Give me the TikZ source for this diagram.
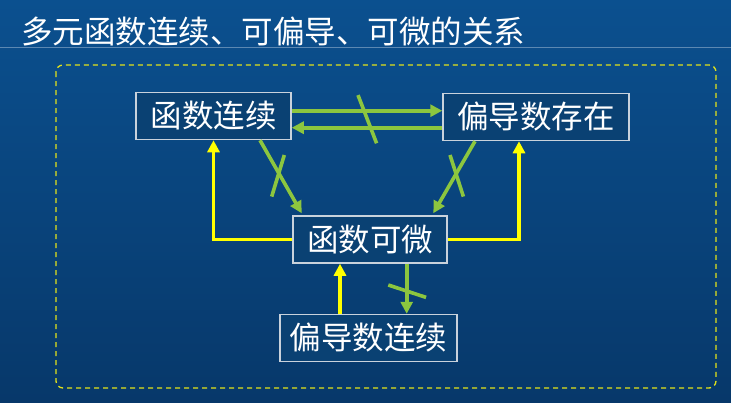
\documentclass[tikz,border=0pt]{standalone}
\usepackage{fontspec}
\newfontfamily\cjk{Noto Sans CJK SC}
\usetikzlibrary{arrows.meta,calc}
\definecolor{bgtop}{HTML}{0B508F}
\definecolor{bgbot}{HTML}{07386A}
\definecolor{gr}{HTML}{8CC63F}
\definecolor{yl}{HTML}{FFFF00}
\definecolor{dashyl}{HTML}{E2E21A}
\definecolor{boxline}{HTML}{C9D2DC}
\definecolor{boxfill}{HTML}{0A4173}
\definecolor{rulecol}{HTML}{5C88B2}
\tikzset{
  box/.style={draw=boxline,line width=1.5pt,fill=boxfill,rectangle,inner sep=0pt,
    text=white,font=\cjk\fontsize{31.5}{34}\selectfont,minimum height=47pt},
  garrow/.style={draw=gr,line width=3.6pt,-{Triangle[length=12pt,width=12pt]}},
  yarrow/.style={draw=yl,line width=3.6pt,-{Triangle[length=12pt,width=12pt]}},
  slash/.style={draw=gr,line width=3.6pt},
}
\begin{document}
\begin{tikzpicture}[x=1pt,y=-1pt]
\shade[top color=bgtop,bottom color=bgbot] (0,0) rectangle (731,402);
\useasboundingbox (0,0) rectangle (731,402);
\draw[rulecol,line width=0.8pt] (0,47) -- (731,47);
\node[anchor=west,inner sep=0pt,text=white,font=\cjk\fontsize{31.5}{34}\selectfont] (title) at (21,32) {多元函数连续、可偏导、可微的关系};
\draw[dashyl,line width=1.3pt,dash pattern=on 5pt off 4pt,rounded corners=7pt] (56,65) rectangle (716,388);

\node[box,minimum width=155pt] (A) at (213.5,116) {函数连续};
\node[box,minimum width=186pt] (B) at (536,117) {偏导数存在};
\node[box,minimum width=154pt] (C) at (370,239.5) {函数可微};
\node[box,minimum width=177pt] (D) at (368.5,338) {偏导数连续};

% A <-> B
\draw[garrow] ([yshift=5.3pt]A.east) -- ([yshift=5.3pt]A.east -| B.west);
\draw[garrow] ([yshift=-11.7pt]A.east -| B.west) -- ([yshift=-11.7pt]A.east);
% A -> C, B -> C
\draw[garrow] ([xshift=46.5pt]A.south) -- ([xshift=-68.3pt,yshift=2pt]C.north);
\draw[garrow] ([xshift=-61pt]B.south) -- ([xshift=63.3pt,yshift=2pt]C.north);
% C -> A, C -> B (yellow)
\draw[yarrow] (C.west) -| (A.south);
\draw[yarrow] (C.east) -| ([xshift=-17pt]B.south);
% D -> C yellow, C -> D green
\draw[yarrow] ([xshift=-28.5pt]D.north) -- ([xshift=-28.5pt]D.north |- C.south);
\draw[garrow] ([xshift=36.7pt]C.south) -- ([xshift=36.7pt]C.south |- D.north);

% negation slashes
\coordinate (s1) at (367.3,119.2);
\coordinate (s2) at (278,175.8);
\coordinate (s3) at (456.7,175.8);
\coordinate (s4) at (407.2,291.2);
\draw[slash] ($(s1)+(-9.3,-24.1)$) -- ($(s1)+(9.3,24.1)$);
\draw[slash] ($(s2)+(6.3,-20.8)$) -- ($(s2)+(-6.3,20.8)$);
\draw[slash] ($(s3)+(-6.7,-20.8)$) -- ($(s3)+(6.7,20.8)$);
\draw[slash] ($(s4)+(-18.9,-6.2)$) -- ($(s4)+(18.9,6.2)$);
\end{tikzpicture}
\end{document}
